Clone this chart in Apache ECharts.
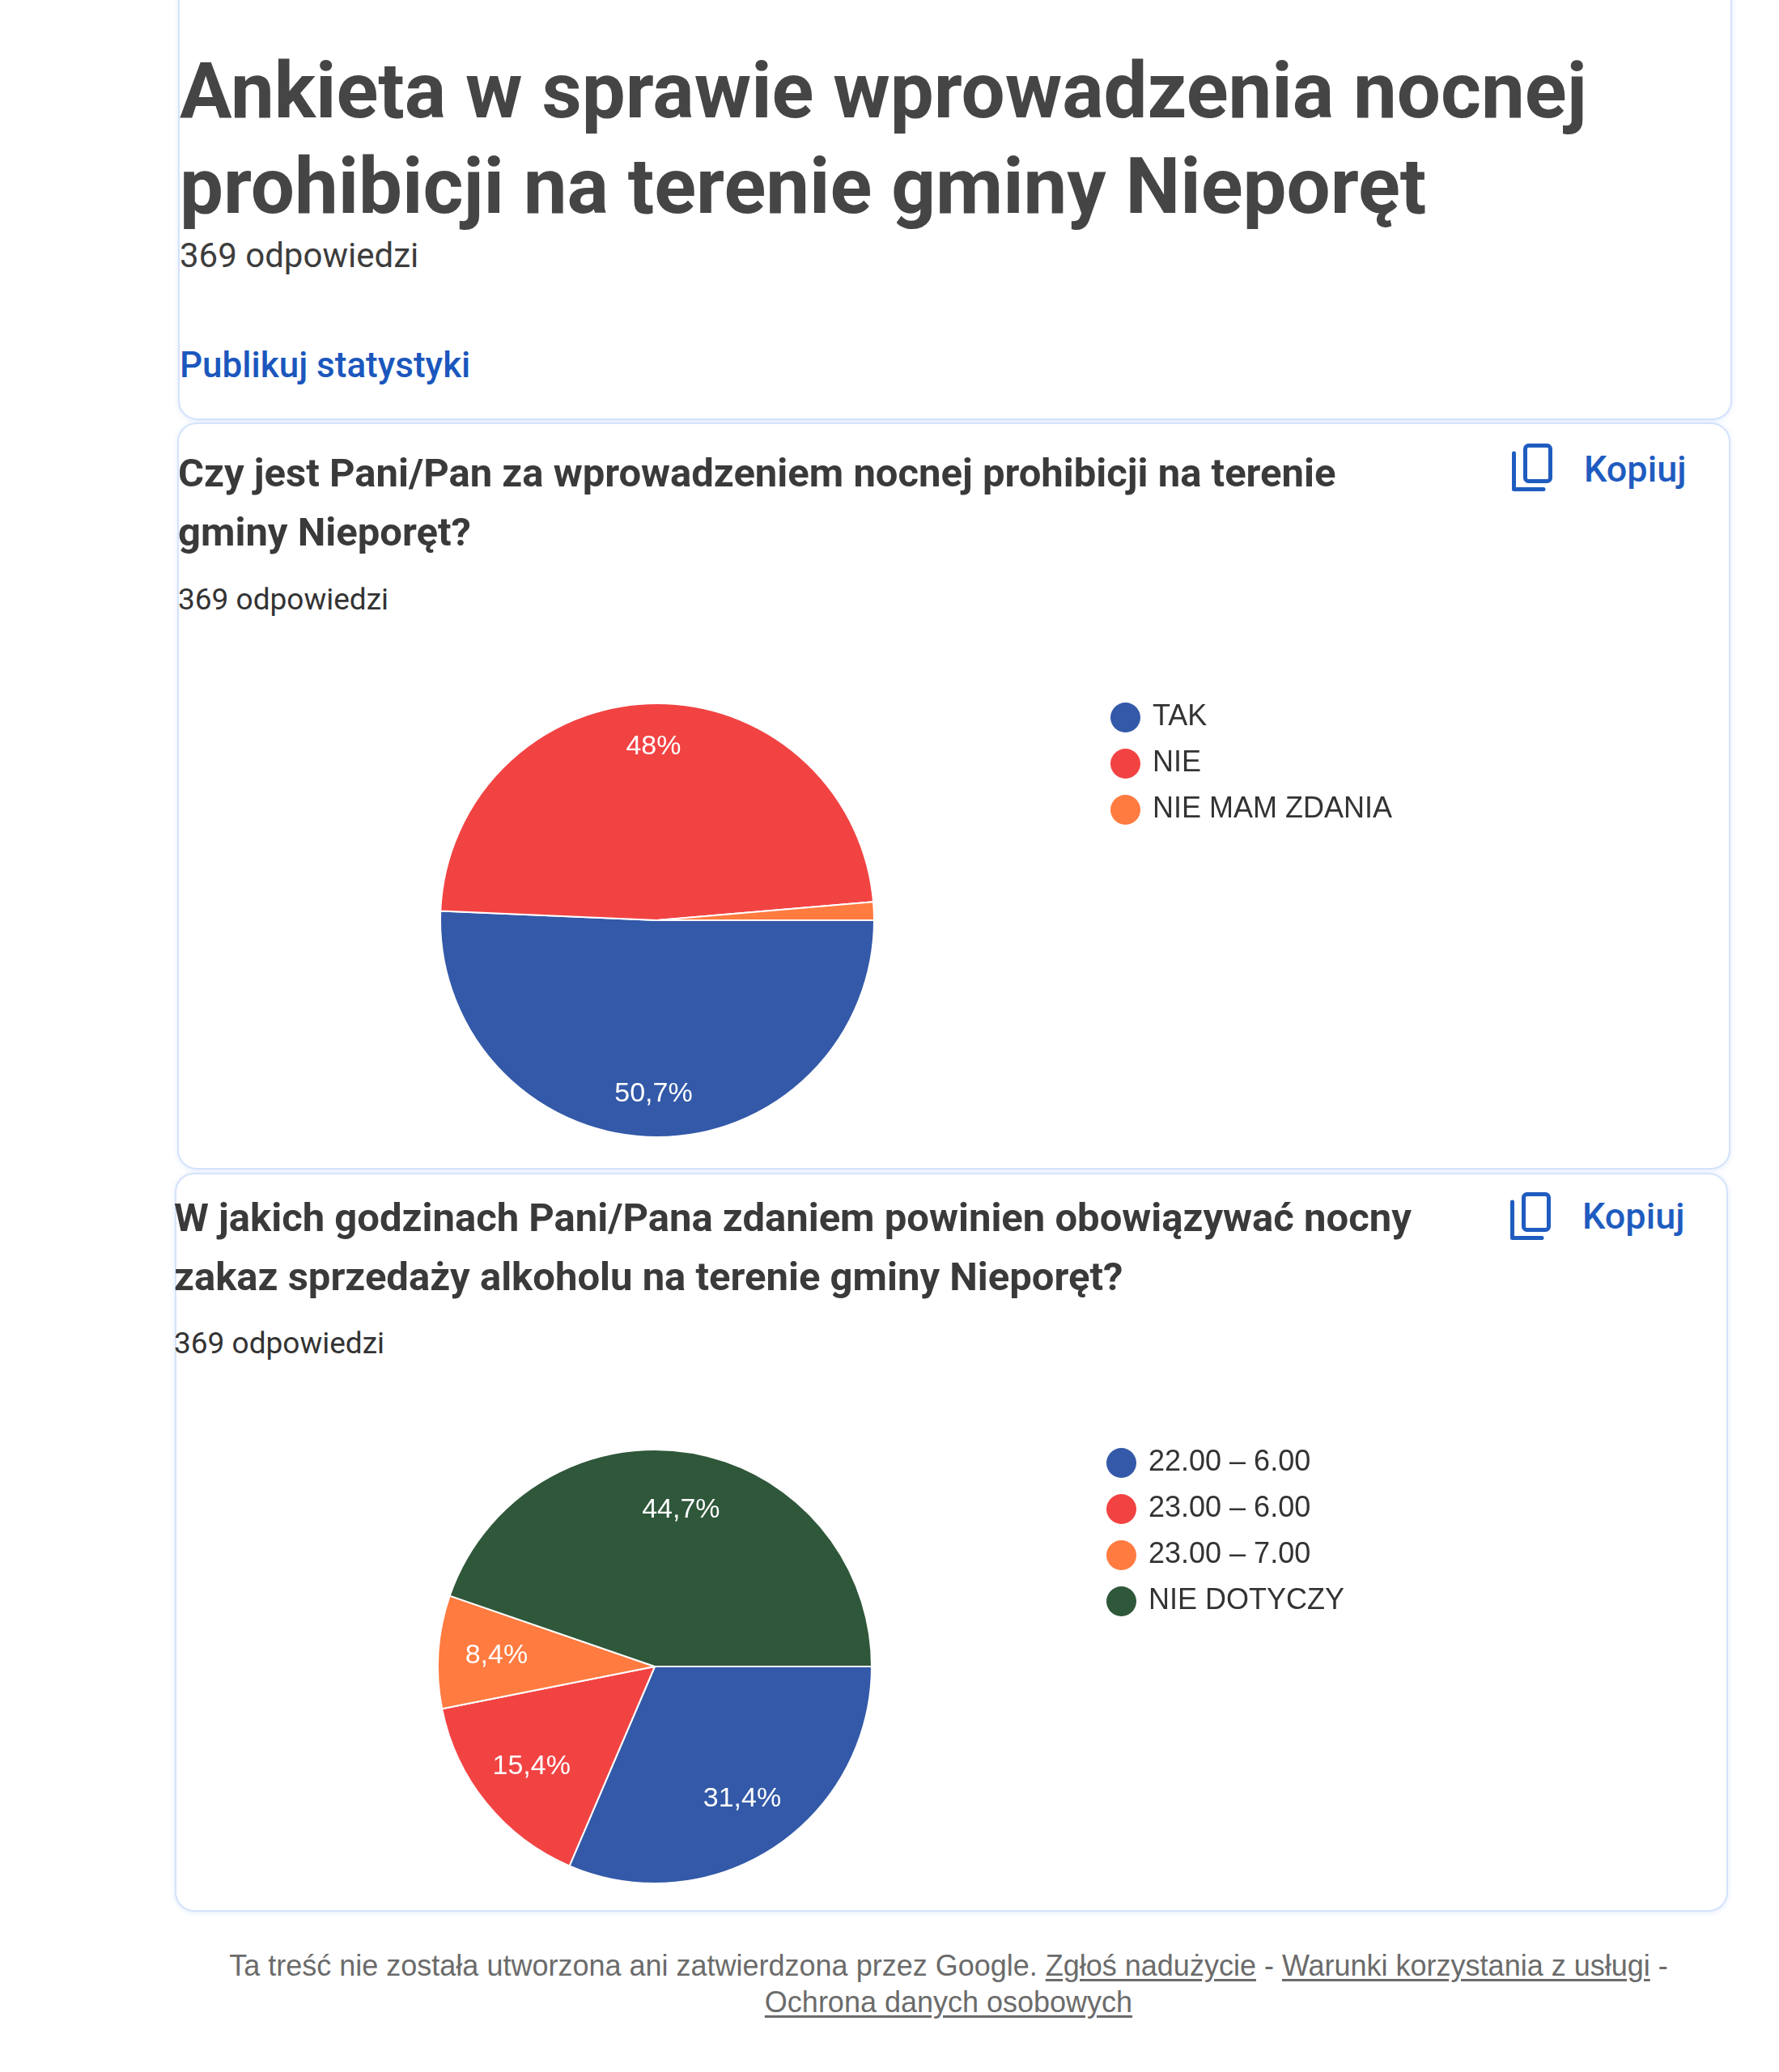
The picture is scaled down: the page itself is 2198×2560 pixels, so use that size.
<!DOCTYPE html>
<html lang="pl">
<head>
<meta charset="utf-8">
<title>Ankieta w sprawie wprowadzenia nocnej prohibicji na terenie gminy Nieporęt</title>
<script src="https://cdn.jsdelivr.net/npm/echarts@6/dist/echarts.min.js"></script>
<style>
  html, body { margin: 0; padding: 0; background: #fff; }
  #page { position: relative; width: 2198px; height: 2560px; overflow: hidden; font-family: Roboto, "Noto Sans", sans-serif; }
  .card { position: absolute; box-sizing: border-box; border: 2px solid #d4e3fb; border-radius: 24px; background: #fff; box-shadow: 0 1px 6px rgba(66, 133, 244, 0.16); }
  .txt { position: absolute; white-space: nowrap; }
  .title { font-size: 96px; line-height: 118px; font-weight: 700; color: #454545; }
  .count-big { font-size: 42px; line-height: 50px; color: #3d3d3d; }
  .publish { font-size: 44px; line-height: 53px; font-weight: 500; color: #1b57bd; }
  .question { font-size: 49px; line-height: 73px; font-weight: 700; color: #3a3a3a; }
  .count { font-size: 37px; line-height: 44px; color: #333; }
  .copy { font-size: 45px; line-height: 54px; font-weight: 500; color: #1f5cbf; }
  .icon { position: absolute; width: 50px; height: 59px; }
  .footer { position: absolute; left: 172px; width: 2000px; text-align: center; font-family: "Liberation Sans", Arial, sans-serif; font-size: 36px; line-height: 45px; color: #6b6b6b; }
  .footer u { text-underline-offset: 4px; }
  #chart { position: absolute; left: 0; top: 0; width: 2198px; height: 2560px; }
</style>
</head>
<body>
<div id="page">
  <div class="card" style="left:220px; top:-40px; width:1920px; height:559px;"></div>
  <div class="card" style="left:219px; top:522px; width:1919px; height:923px;"></div>
  <div class="card" style="left:216px; top:1449px; width:1919px; height:913px;"></div>

  <div class="txt title" style="left:222px; top:53px;">Ankieta w sprawie wprowadzenia nocnej<br>prohibicji na terenie gminy Nieporęt</div>
  <div class="txt count-big" style="left:222px; top:291px;">369 odpowiedzi</div>
  <div class="txt publish" style="left:222px; top:425px;">Publikuj statystyki</div>

  <div class="txt question" style="left:220px; top:548px;">Czy jest Pani/Pan za wprowadzeniem nocnej prohibicji na terenie<br>gminy Nieporęt?</div>
  <div class="txt count" style="left:220px; top:719px;">369 odpowiedzi</div>
  <svg class="icon" style="left:1868px; top:548px;" viewBox="0 0 50 59"><rect x="16.5" y="2.5" width="31" height="44" rx="4" fill="none" stroke="#1f5cbf" stroke-width="5"/><path d="M2.5 12 V56.5 H39" fill="none" stroke="#1f5cbf" stroke-width="5" stroke-linecap="round" stroke-linejoin="round"/></svg>
  <div class="txt copy" style="left:1957px; top:553px;">Kopiuj</div>

  <div class="txt question" style="left:215px; top:1468px;">W jakich godzinach Pani/Pana zdaniem powinien obowiązywać nocny<br>zakaz sprzedaży alkoholu na terenie gminy Nieporęt?</div>
  <div class="txt count" style="left:215px; top:1638px;">369 odpowiedzi</div>
  <svg class="icon" style="left:1866px; top:1473px;" viewBox="0 0 50 59"><rect x="16.5" y="2.5" width="31" height="44" rx="4" fill="none" stroke="#1f5cbf" stroke-width="5"/><path d="M2.5 12 V56.5 H39" fill="none" stroke="#1f5cbf" stroke-width="5" stroke-linecap="round" stroke-linejoin="round"/></svg>
  <div class="txt copy" style="left:1955px; top:1476px;">Kopiuj</div>

  <div class="footer" style="top:2406px;">Ta treść nie została utworzona ani zatwierdzona przez Google. <u>Zgłoś nadużycie</u> - <u>Warunki korzystania z usługi</u> -<br><u>Ochrona danych osobowych</u></div>

  <div id="chart"></div>
</div>
<script>
// pytanie 1
const q1Names = ["TAK", "NIE", "NIE MAM ZDANIA"];
const q1Counts = [187, 177, 5];

// pytanie 2
const q2Names = ["22.00 – 6.00", "23.00 – 6.00", "23.00 – 7.00", "NIE DOTYCZY"];
const q2Counts = [116, 57, 31, 165];

const sliceColors = ["#3359a8", "#f24343", "#ff7b40", "#2f573a"];

const chartFont = '"Liberation Sans", Arial, sans-serif';
const R = 268;

// percent with one decimal and a comma, like the Forms summary
function pctFormatter(counts) {
  const total = counts.reduce((a, b) => a + b, 0);
  return (p) => {
    const pct = (p.value / total) * 100;
    if (pct < 3) return "";
    return String(Math.round(pct * 10) / 10).replace(".", ",") + "%";
  };
}

function pieSeries(names, counts, center, labelInner) {
  const slices = names.map((n, i) => ({
    name: n,
    value: counts[i],
    itemStyle: { color: sliceColors[i] },
  }));
  const plain = names.map((n, i) => ({ name: n, value: counts[i] }));
  return [
    {
      type: "pie",
      center: center,
      radius: R,
      startAngle: 0,
      clockwise: true,
      avoidLabelOverlap: false,
      silent: true,
      data: slices,
      label: { show: false },
      labelLine: { show: false },
      itemStyle: { borderColor: "#fff", borderWidth: 2 },
    },
    // transparent ring only used to push the labels outwards
    {
      type: "pie",
      center: center,
      radius: [labelInner, R],
      startAngle: 0,
      clockwise: true,
      avoidLabelOverlap: false,
      silent: true,
      data: plain,
      itemStyle: { color: "rgba(0,0,0,0)" },
      labelLine: { show: false },
      label: {
        show: true,
        position: "inside",
        formatter: pctFormatter(counts),
        color: "#fff",
        fontSize: 34,
        fontFamily: chartFont,
      },
    },
  ];
}

function legendFor(names, left, top) {
  return {
    data: names,
    orient: "vertical",
    left: left,
    top: top,
    padding: 0,
    icon: "circle",
    itemWidth: 37,
    itemHeight: 37,
    itemGap: 20,
    selectedMode: false,
    itemStyle: { borderWidth: 0 },
    textStyle: {
      fontSize: 36,
      color: "#333",
      fontFamily: chartFont,
      padding: [0, 0, 0, 10],
    },
  };
}

const chart = echarts.init(document.getElementById("chart"));
chart.setOption({
  animation: false,
  legend: [legendFor(q1Names, 1372, 868), legendFor(q2Names, 1367, 1789)],
  series: [
    ...pieSeries(q1Names, q1Counts, [812, 1137], 155),
    ...pieSeries(q2Names, q2Counts, [809, 2059], 118),
  ],
});
window.addEventListener("resize", chart.resize);
</script>
</body>
</html>
